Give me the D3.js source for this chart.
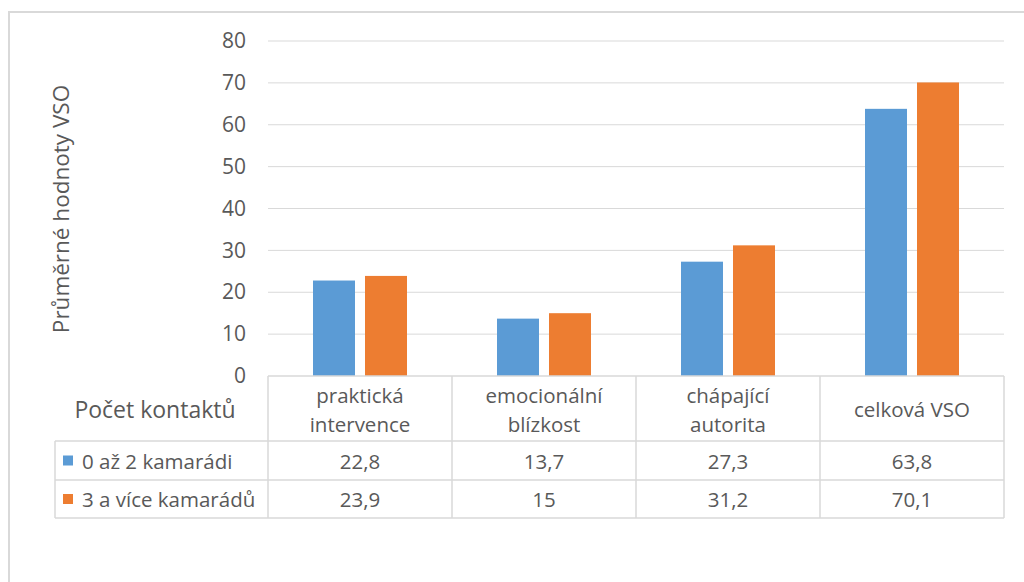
<!DOCTYPE html>
<html>
<head>
<meta charset="utf-8">
<script src="https://cdn.jsdelivr.net/npm/d3@7"></script>
<style>
  html, body { margin: 0; padding: 0; background: #fff; }
  svg { display: block; }
  text { font-family: "Open Sans", Lato, "Liberation Sans", sans-serif; fill: #595959; }
</style>
</head>
<body>
<svg id="chart" width="1024" height="582"></svg>
<script>
// Category labels (each entry is a list of text lines)
const categories = [
  ["praktická", "intervence"],
  ["emocionální", "blízkost"],
  ["chápající", "autorita"],
  ["celková VSO"]
];
const seriesNames = ["0 až 2 kamarádi", "3 a více kamarádů"];
const seriesA = [22.8, 13.7, 27.3, 63.8];
const seriesB = [23.9, 15, 31.2, 70.1];
const yTicks = [0, 10, 20, 30, 40, 50, 60, 70, 80];
const colors = ["#5b9bd5", "#ed7d31"];
const yTitle = "Průměrné hodnoty VSO";
const tableHeader = "Počet kontaktů";

const series = [seriesA, seriesB];
const fmt = v => String(v).replace(".", ",");

const svg = d3.select("#chart");
const grid = "#d9d9d9";

// Outer chart frame
svg.append("rect")
  .attr("x", 9).attr("y", 12).attr("width", 1030).attr("height", 600)
  .attr("fill", "none").attr("stroke", "#d9d9d9").attr("stroke-width", 2);

const plot = { left: 268, right: 1004, top: 41, bottom: 376 };

const x = d3.scaleBand()
  .domain(d3.range(categories.length))
  .range([plot.left, plot.right]);

const y = d3.scaleLinear().domain([0, 80]).range([plot.bottom, plot.top]);

// Gridlines
svg.append("g").selectAll("line")
  .data(yTicks.filter(t => t > 0))
  .join("line")
  .attr("x1", plot.left).attr("x2", plot.right)
  .attr("y1", d => y(d)).attr("y2", d => y(d))
  .attr("stroke", grid).attr("stroke-width", 1);

// Y axis tick labels
const yAxis = d3.axisLeft(y).tickValues(yTicks).tickSize(0).tickPadding(0);
const yg = svg.append("g")
  .attr("transform", `translate(246,0)`)
  .call(yAxis);
yg.select(".domain").remove();
yg.selectAll("text")
  .attr("font-size", 21)
  .attr("fill", "#595959")
  .style("font-family", "'Open Sans', Lato, sans-serif");

// Y axis title
svg.append("text")
  .attr("transform", `translate(60,${(83 + 335) / 2}) rotate(-90)`)
  .attr("text-anchor", "middle")
  .attr("dominant-baseline", "central")
  .attr("font-size", 22.5)
  .text(yTitle);

// Bars
const barW = 42, innerGap = 5;
series.forEach((vals, si) => {
  svg.append("g").selectAll("rect")
    .data(vals)
    .join("rect")
    .attr("x", (d, i) => {
      const c = x(i) + x.bandwidth() / 2;
      return si === 0 ? c - innerGap - barW : c + innerGap;
    })
    .attr("y", d => y(d))
    .attr("width", barW)
    .attr("height", d => y(0) - y(d))
    .attr("fill", colors[si]);
});

// Data table
const tbl = { left: 55, rows: [[441, 480], [480, 518]] };
const lineG = svg.append("g").attr("stroke", grid).attr("stroke-width", 1.5).attr("fill", "none");

// Horizontal lines
lineG.append("line").attr("x1", plot.left).attr("x2", plot.right)
  .attr("y1", plot.bottom).attr("y2", plot.bottom);
[441, 480, 518].forEach(yy => {
  lineG.append("line").attr("x1", tbl.left).attr("x2", plot.right)
    .attr("y1", yy).attr("y2", yy);
});
// Vertical lines
lineG.append("line").attr("x1", tbl.left).attr("x2", tbl.left).attr("y1", 441).attr("y2", 518);
d3.range(categories.length + 1).forEach(i => {
  const xx = i < categories.length ? x(i) : plot.right;
  lineG.append("line").attr("x1", xx).attr("x2", xx).attr("y1", plot.bottom).attr("y2", 518);
});

// Header label
svg.append("text")
  .attr("x", 155).attr("y", 409)
  .attr("text-anchor", "middle").attr("dominant-baseline", "central")
  .attr("font-size", 23)
  .text(tableHeader);

// Category labels in header row
categories.forEach((lines, i) => {
  const cx = x(i) + x.bandwidth() / 2;
  const lh = 29;
  const y0 = 409 - (lines.length - 1) * lh / 2;
  const t = svg.append("text")
    .attr("text-anchor", "middle")
    .attr("font-size", 20.5);
  lines.forEach((ln, k) => {
    t.append("tspan")
      .attr("x", cx).attr("y", y0 + k * lh)
      .attr("dominant-baseline", "central")
      .text(ln);
  });
});

// Series rows: legend key + values
series.forEach((vals, si) => {
  const [r0, r1] = tbl.rows[si];
  const cy = (r0 + r1) / 2;
  svg.append("rect")
    .attr("x", 63).attr("y", cy - 5).attr("width", 10).attr("height", 10)
    .attr("fill", colors[si]);
  svg.append("text")
    .attr("x", 82).attr("y", cy)
    .attr("dominant-baseline", "central")
    .attr("font-size", 20.5)
    .text(seriesNames[si]);
  svg.append("g").selectAll("text")
    .data(vals)
    .join("text")
    .attr("x", (d, i) => x(i) + x.bandwidth() / 2)
    .attr("y", cy)
    .attr("text-anchor", "middle")
    .attr("dominant-baseline", "central")
    .attr("font-size", 20.5)
    .text(d => fmt(d));
});
</script>
</body>
</html>
